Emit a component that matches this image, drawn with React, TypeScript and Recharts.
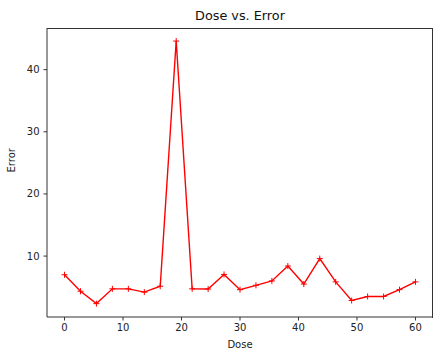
import React from "react";
import { LineChart, Line, XAxis, YAxis } from "recharts";

// x positions of each measured dose
const doses = [
  0, 2.73, 5.45, 8.18, 10.91, 13.64, 16.36, 19.09, 21.82, 24.55, 27.27, 30,
  32.73, 35.45, 38.18, 40.91, 43.64, 46.36, 49.09, 51.82, 54.55, 57.27, 60,
];
const errors = [
  7.0, 4.35, 2.35, 4.73, 4.73, 4.2, 5.15, 44.6, 4.73, 4.7, 7.05, 4.6, 5.3,
  6.0, 8.4, 5.5, 9.6, 5.85, 2.85, 3.5, 3.5, 4.6, 5.85,
];
const xTicks = [0, 10, 20, 30, 40, 50, 60];
const yTicks = [10, 20, 30, 40];

const data = doses.map((d, i) => ({ dose: d, error: errors[i] }));

const font = "DejaVu Sans";
const tickStyle = { fill: "#222", fontSize: 10, fontFamily: font };
const axisColor = "#333";

const PlusDot = (props: any) => {
  const { cx, cy } = props;
  if (cx == null || cy == null) return null;
  const r = 3;
  return (
    <g stroke="#ff0000" strokeWidth={1}>
      <line x1={cx - r} y1={cy} x2={cx + r} y2={cy} />
      <line x1={cx} y1={cy - r} x2={cx} y2={cy + r} />
    </g>
  );
};

export default function App() {
  return (
    <div style={{ position: "absolute", left: 0, top: 0, width: 434, height: 351, background: "#fff" }}>
      <div
        style={{
          position: "absolute",
          left: 47,
          width: 386,
          top: 8,
          textAlign: "center",
          fontFamily: font,
          fontSize: 12.8,
          color: "#111",
          lineHeight: "15px",
        }}
      >
        Dose vs. Error
      </div>
      <LineChart
        width={434}
        height={351}
        data={data}
        margin={{ top: 28, right: 1, bottom: 0, left: 0 }}
      >
        <XAxis
          dataKey="dose"
          type="number"
          domain={[-3, 63]}
          ticks={xTicks}
          height={34}
          tickSize={3.5}
          tickMargin={3}
          tick={tickStyle}
          stroke={axisColor}
          strokeWidth={1}
          allowDataOverflow
          label={{ value: "Dose", position: "insideBottom", offset: 3, fill: "#222", fontSize: 10, fontFamily: font }}
        />
        <YAxis
          type="number"
          domain={[0.2, 46.7]}
          ticks={yTicks}
          width={47}
          tickSize={3.5}
          tickMargin={4}
          tick={tickStyle}
          stroke={axisColor}
          strokeWidth={1}
          allowDataOverflow
          label={{ value: "Error", angle: -90, position: "insideLeft", offset: 11, fill: "#222", fontSize: 10, fontFamily: font }}
        />
        <Line
          dataKey="error"
          type="linear"
          stroke="#ff0000"
          strokeWidth={1.4}
          dot={<PlusDot />}
          activeDot={false}
          isAnimationActive={false}
        />
      </LineChart>
      {/* top and right spines of the axes box */}
      <div
        style={{
          position: "absolute",
          left: 47,
          top: 28,
          width: 385,
          height: 289,
          borderTop: `1px solid ${axisColor}`,
          borderRight: `1px solid ${axisColor}`,
          pointerEvents: "none",
        }}
      />
    </div>
  );
}
